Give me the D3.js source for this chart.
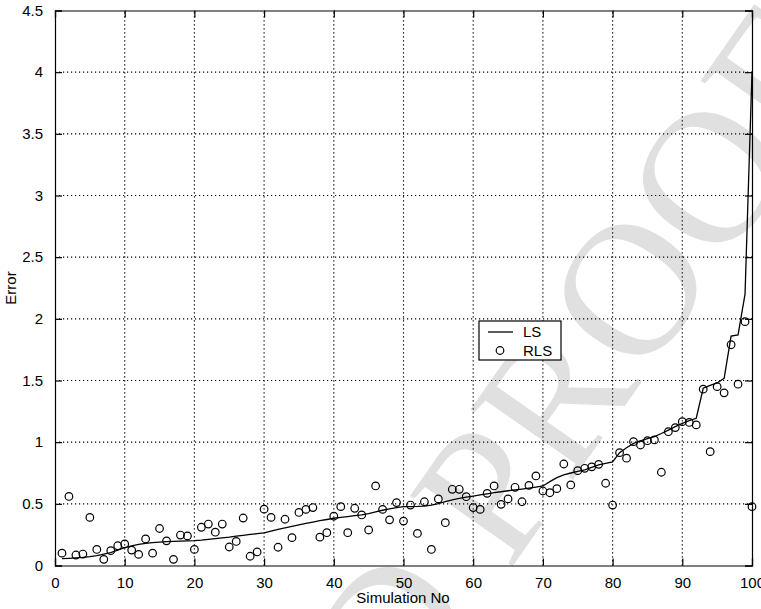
<!doctype html>
<html>
<head>
<style type="text/css">
body { margin: 0; background: white; }
text {
  fill: black;
  font: 15px "Liberation Sans", Arial, sans-serif;
}
.grid line { stroke: black; stroke-width: 1.2; stroke-dasharray: 1.2,2.8; }
.watermark {
  fill: #e0e0e0;
  font: 190px "Liberation Serif", "Times New Roman", serif;
}
</style>
</head>
<body>
<svg width="761" height="609"></svg>
<script src="https://d3js.org/d3.v7.min.js"></script>
<script>
// LS error per simulation (sorted), simulations 1..100
var ls = [0.055,0.058,0.062,0.066,0.072,0.080,0.092,0.105,0.125,0.145,
  0.160,0.172,0.180,0.185,0.189,0.193,0.196,0.198,0.200,0.202,
  0.206,0.212,0.218,0.224,0.230,0.238,0.245,0.252,0.258,0.265,
  0.278,0.292,0.305,0.318,0.330,0.341,0.352,0.363,0.373,0.383,
  0.390,0.397,0.404,0.411,0.420,0.434,0.448,0.460,0.470,0.477,
  0.478,0.479,0.482,0.490,0.502,0.518,0.532,0.544,0.554,0.563,
  0.572,0.581,0.590,0.598,0.606,0.613,0.620,0.628,0.636,0.645,
  0.680,0.712,0.734,0.750,0.763,0.775,0.795,0.815,0.828,0.840,
  0.915,0.955,0.990,1.010,1.028,1.045,1.070,1.098,1.126,1.153,
  1.174,1.194,1.437,1.460,1.480,1.518,1.860,1.870,2.200,4.000];

// RLS error for the same simulations
var rls = [0.100,0.560,0.085,0.093,0.390,0.130,0.050,0.120,0.160,0.175,
  0.125,0.090,0.215,0.100,0.300,0.200,0.050,0.247,0.240,0.130,
  0.310,0.336,0.270,0.336,0.150,0.195,0.385,0.075,0.110,0.457,
  0.390,0.148,0.375,0.226,0.430,0.455,0.470,0.230,0.266,0.400,
  0.477,0.266,0.464,0.410,0.288,0.645,0.455,0.370,0.510,0.360,
  0.490,0.260,0.517,0.130,0.540,0.347,0.618,0.618,0.558,0.470,
  0.455,0.585,0.645,0.496,0.540,0.634,0.517,0.650,0.726,0.604,
  0.590,0.623,0.823,0.653,0.769,0.788,0.800,0.820,0.667,0.490,
  0.915,0.870,1.004,0.977,1.012,1.018,0.756,1.085,1.118,1.166,
  1.160,1.140,1.430,0.923,1.450,1.400,1.790,1.470,1.977,0.477];

var simNo = d3.range(1, 101);
var xTicks = [0,10,20,30,40,50,60,70,80,90,100];
var yTicks = [0,0.5,1,1.5,2,2.5,3,3.5,4,4.5];

var svg = d3.select("svg");

var x = d3.scaleLinear().domain([0,100]).range([55,752]);
var y = d3.scaleLinear().domain([0,4.5]).range([565.5,10.5]);

// proof watermark, behind everything
svg.append("text")
  .attr("class", "watermark")
  .attr("text-anchor", "end")
  .attr("transform", "translate(860,70) rotate(-55)")
  .text("UNCORRECTED PROOF");

// dotted grid
var grid = svg.append("g").attr("class", "grid");
grid.selectAll(".vx").data(xTicks.slice(1, -1)).enter().append("line")
  .attr("x1", function(d){ return x(d); }).attr("x2", function(d){ return x(d); })
  .attr("y1", y(0)).attr("y2", y(4.5));
grid.selectAll(".hy").data(yTicks.slice(1, -1)).enter().append("line")
  .attr("x1", x(0)).attr("x2", x(100))
  .attr("y1", function(d){ return y(d); }).attr("y2", function(d){ return y(d); });

// axes with inward ticks on all four sides
svg.append("g").attr("transform", "translate(0," + y(0) + ")")
  .call(d3.axisBottom(x).tickValues(xTicks).tickSize(-7).tickPadding(12));
svg.append("g").attr("transform", "translate(0," + y(4.5) + ")")
  .call(d3.axisTop(x).tickValues(xTicks).tickSize(-7).tickFormat(""));
svg.append("g").attr("transform", "translate(" + x(0) + ",0)")
  .call(d3.axisLeft(y).tickValues(yTicks).tickSize(-7).tickPadding(12)
    .tickFormat(d3.format("~g")));
svg.append("g").attr("transform", "translate(" + x(100) + ",0)")
  .call(d3.axisRight(y).tickValues(yTicks).tickSize(-7).tickFormat(""));

svg.selectAll(".domain").attr("stroke", "black").attr("stroke-width", 1.2);
svg.selectAll(".tick line").attr("stroke", "black").attr("stroke-width", 1.2);
svg.selectAll(".tick text").style("font-size", "15px").attr("fill", "black");

// LS line
var line = d3.line()
  .x(function(d, i){ return x(simNo[i]); })
  .y(function(d){ return y(d); });
svg.append("path")
  .datum(ls)
  .attr("d", line)
  .attr("fill", "none")
  .attr("stroke", "black")
  .attr("stroke-width", 1.3);

// RLS circles
svg.selectAll(".rls").data(rls).enter().append("circle")
  .attr("class", "rls")
  .attr("cx", function(d, i){ return x(simNo[i]); })
  .attr("cy", function(d){ return y(d); })
  .attr("r", 3.8)
  .attr("fill", "none")
  .attr("stroke", "black")
  .attr("stroke-width", 1.2);

// axis titles
svg.append("text")
  .attr("x", 403).attr("y", 603)
  .attr("text-anchor", "middle")
  .text("Simulation No");
svg.append("text")
  .attr("transform", "translate(16," + y(2.25) + ") rotate(-90)")
  .attr("text-anchor", "middle")
  .text("Error");

// legend
var lg = svg.append("g").attr("transform", "translate(479,321)");
lg.append("rect")
  .attr("width", 82).attr("height", 39)
  .attr("fill", "white").attr("stroke", "black").attr("stroke-width", 1.2);
lg.append("line")
  .attr("x1", 9).attr("x2", 34).attr("y1", 11).attr("y2", 11)
  .attr("stroke", "black").attr("stroke-width", 1.3);
lg.append("text").attr("x", 44).attr("y", 16).text("LS");
lg.append("circle")
  .attr("cx", 21).attr("cy", 29.5).attr("r", 3.8)
  .attr("fill", "none").attr("stroke", "black").attr("stroke-width", 1.2);
lg.append("text").attr("x", 44).attr("y", 34.5).text("RLS");
</script>
</body>
</html>
